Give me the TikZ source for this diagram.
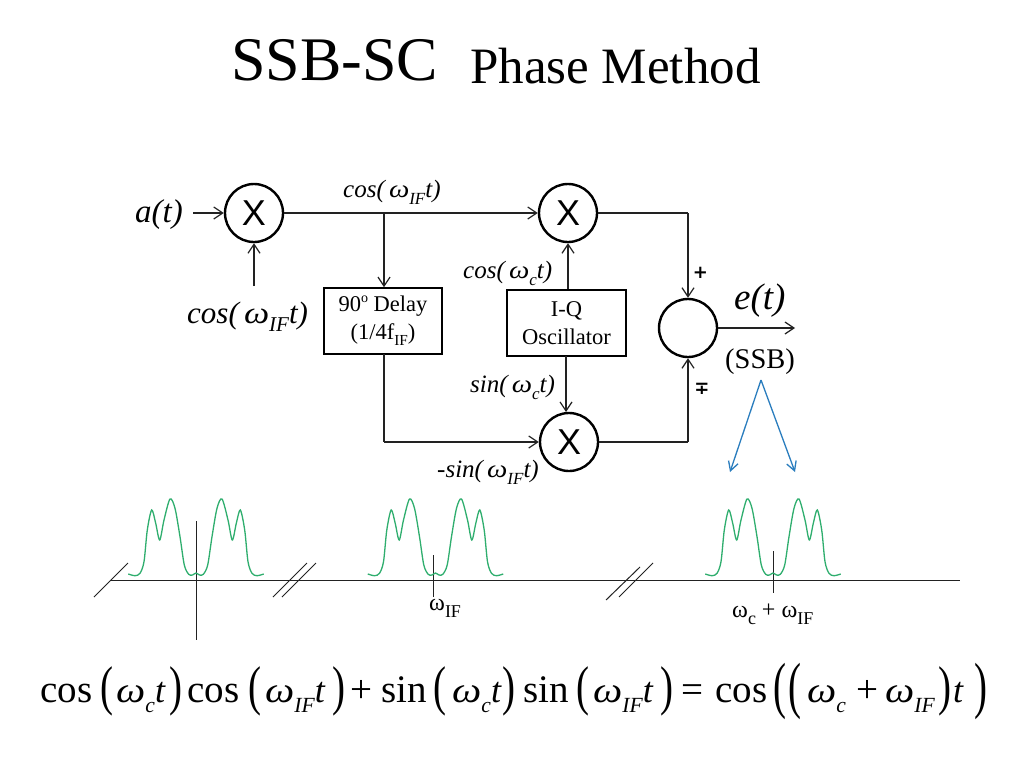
\documentclass[tikz,border=0pt]{standalone}
\usepackage{fontspec}
\usepackage{graphicx}
\setmainfont{Liberation Serif}
\setsansfont{Liberation Sans}
\newfontfamily\djv{DejaVu Sans}
\usetikzlibrary{arrows.meta}
\newcommand{\fsz}[1]{\fontsize{#1}{#1}\selectfont}
\newcommand{\sbt}[1]{\raisebox{-0.28em}{\scalebox{0.68}{#1}}}
\newcommand{\sbe}[1]{\raisebox{-0.3em}{\scalebox{0.6}{#1}}}
\newcommand{\sbl}[1]{\raisebox{-0.3em}{\scalebox{0.75}{#1}}}
\newcommand{\omg}{\scalebox{1.15}[1]{ω}}
\definecolor{specgreen}{HTML}{2FAE6E}
\definecolor{arrblue}{HTML}{2A7DBE}
\definecolor{ink}{HTML}{222222}
\tikzset{
  x=1pt,y=-1pt,
  mixer/.style={circle,draw=black,line width=2.4pt,fill=white,minimum size=58pt,inner sep=0pt,font=\sffamily\fsz{36}},
  blockbox/.style={rectangle,draw=black,line width=1.7pt,fill=white,inner sep=0pt,align=center,font=\fsz{22.5}},
  wire/.style={draw=ink,line width=1.2pt},
  arr/.style={wire,-{Straight Barb[length=9pt,width=12pt,line width=1.2pt]}},
  bluearr/.style={draw=arrblue,line width=1.3pt,-{Straight Barb[length=9pt,width=10pt,line width=1.3pt]}},
  axisline/.style={draw=ink,line width=1pt},
  spec/.style={draw=specgreen,line width=1.3pt},
  sig/.style={inner sep=0pt,font=\itshape\fsz{25}},
  sigbig/.style={inner sep=0pt,font=\itshape\fsz{33}},
  sigcos/.style={inner sep=0pt,font=\itshape\fsz{31}},
  lab/.style={inner sep=0pt,font=\fsz{24}},
  eqtext/.style={inner sep=0pt,anchor=base west,font=\fsz{39}},
  eqital/.style={eqtext,font=\itshape\fsz{36}},
  eqparen/.style={inner sep=0pt,font=\fsz{39}},
}
\newcommand{\eqlp}[2]{\node[eqparen] (#1) at (#2,691) {\scalebox{1}[1.4]{(}};}
\newcommand{\eqrp}[2]{\node[eqparen] (#1) at (#2,691) {\scalebox{1}[1.4]{)}};}
\newcommand{\eqLp}[2]{\node[eqparen] (#1) at (#2,691) {\scalebox{1}[1.6]{(}};}
\newcommand{\eqRp}[2]{\node[eqparen] (#1) at (#2,691) {\scalebox{1}[1.6]{)}};}
\newcommand{\spectrum}[1]{%
\begin{scope}[shift={(#1,0)}]
\draw[spec] plot[smooth,tension=0.5] coordinates {
(-67.7,574)(-61,575.7)(-56,573.3)(-52,561.7)(-48.7,530)(-44.3,510)(-40.3,523.3)(-36.3,540)(-32,520)(-26,499)(-21,508.3)(-16,536.7)(-11.7,565)(-7.3,574.3)(-3.5,575)(0,573)(3.5,575)(7.3,574.3)(11.7,565)(16,536.7)(21,508.3)(26,499)(32,520)(36.3,540)(40.3,523.3)(44.3,510)(48.7,530)(52,561.7)(56,573.3)(61,575.7)(67.7,574)};
\end{scope}}
\begin{document}
\begin{tikzpicture}
\useasboundingbox (0,0) rectangle (1024,768);
\fill[white] (0,0) rectangle (1024,768);
\node[inner sep=0pt,anchor=base west] (title) at (231,81) {\fsz{62}SSB-SC};
\node[inner sep=0pt,anchor=base west] (title2) at (470,83) {\fsz{51}Phase Method};

\node[mixer] (m1) at (254,213) {X};
\node[mixer] (m2) at (568,213) {X};
\node[mixer] (m3) at (569,442) {X};
\node[mixer] (sum) at (688,328) {};
\node[blockbox,minimum width=118pt,minimum height=66pt] (delay) at (383,321) {90\raisebox{0.4em}{\fsz{14}o} Delay\\[5pt](1/4f\sbt{IF})};
\node[blockbox,minimum width=119pt,minimum height=66pt] (iq) at (566.5,323) {I-Q\\[5pt]Oscillator};

\coordinate (ain) at (193,213);
\coordinate (cosin) at (254,286);
\coordinate (tap) at (384,213);
\coordinate (dbot) at (384,354);
\coordinate (dcorner) at (384,442);
\coordinate (c2) at (688,213);
\coordinate (c3) at (688,442);
\coordinate (eout) at (795,328);
\coordinate (bt) at (761,380);
\coordinate (bl) at (730,472);
\coordinate (br) at (795,472);

\draw[arr] (ain) -- (m1.west);
\draw[arr] (cosin) -- (m1.south);
\draw[arr] (m1.east) -- (m2.west);
\draw[arr] (tap) -- (tap |- delay.north);
\draw[wire] (dbot) -- (dcorner);
\draw[arr] (dcorner) -- (m3.west);
\draw[arr] (iq.north -| m2) -- (m2.south);
\draw[arr] (566,356) -- (566,412);
\draw[wire] (m2.east) -- (c2);
\draw[arr] (c2) -- (sum.north);
\draw[wire] (m3.east) -- (c3);
\draw[arr] (c3) -- (sum.south);
\draw[arr] (sum.east) -- (eout);
\draw[bluearr] (bt) -- (bl);
\draw[bluearr] (bt) -- (br);

\node[sigbig,anchor=base west] (la) at (135,222) {a(t)};
\node[sigcos,anchor=base west] (lc) at (187,323) {cos(\,\omg\sbt{IF}t)};
\node[sig,anchor=base west] (lc1) at (343,197) {cos(\,\omg\sbt{IF}t)};
\node[sig,anchor=base west] (lc2) at (463,278) {cos(\,\omg\sbt{c}t)};
\node[sig,anchor=base west] (ls) at (470,392) {sin(\,\omg\sbt{c}t)};
\node[sig,anchor=base west] (ls2) at (437,477) {-sin(\,\omg\sbt{IF}t)};
\node[inner sep=0pt,anchor=base west,font=\itshape\fsz{37}] (le) at (734,309) {e(t)};
\node[inner sep=0pt,anchor=base west,font=\fsz{28.5}] (lssb) at (725,368) {(SSB)};
\node[inner sep=0pt,font=\djv\bfseries\fsz{18}] (lp) at (700.5,273) {+};
\node[inner sep=0pt,font=\djv\bfseries\fsz{18}] (lm) at (702,389) {∓};

\draw[axisline] (111,580) -- (960,580);
\draw[axisline] (94,597) -- (128,563);
\draw[axisline] (273,597) -- (307,563);
\draw[axisline] (282,597) -- (316,563);
\draw[axisline] (606,600) -- (640,567);
\draw[axisline] (619,597) -- (653,563);
\draw[axisline] (196,521) -- (196,640);
\draw[axisline] (433,555) -- (433,597);
\draw[axisline] (773,551) -- (773,593);
\spectrum{196}
\spectrum{435.5}
\spectrum{773}

\node[lab,anchor=base west] (w1) at (429,610) {ω\sbl{IF}};
\node[lab,anchor=base west] (w2) at (732,617) {ω\sbl{c} + ω\sbl{IF}};

\node[eqtext] (e1) at (40,702) {cos};
\eqlp{p1}{107}
\node[eqital] (e2) at (116,702) {\omg\sbe{c}t};
\eqrp{p2}{176}
\node[eqtext] (e3) at (187,702) {cos};
\eqlp{p3}{255}
\node[eqital] (e4) at (265,702) {\omg\sbe{IF}t};
\eqrp{p4}{339}
\node[eqtext] (e5) at (350,702) {+};
\node[eqtext] (e6) at (381,702) {sin};
\eqlp{p5}{440}
\node[eqital] (e7) at (452,702) {\omg\sbe{c}t};
\eqrp{p6}{509}
\node[eqtext] (e8) at (523,702) {sin};
\eqlp{p7}{583}
\node[eqital] (e9) at (593,702) {\omg\sbe{IF}t};
\eqrp{p8}{667}
\node[eqtext] (e10) at (681,702) {=};
\node[eqtext] (e11) at (715,702) {cos};
\eqLp{p9}{780}
\eqLp{p10}{795}
\node[eqital] (e12) at (807,702) {\omg\sbe{c}};
\node[eqtext] (e13) at (856,702) {+};
\node[eqital] (e14) at (885,702) {\omg\sbe{IF}};
\eqrp{p11}{945}
\node[eqital] (e15) at (953,702) {t};
\eqRp{p12}{981}
\end{tikzpicture}
\end{document}
